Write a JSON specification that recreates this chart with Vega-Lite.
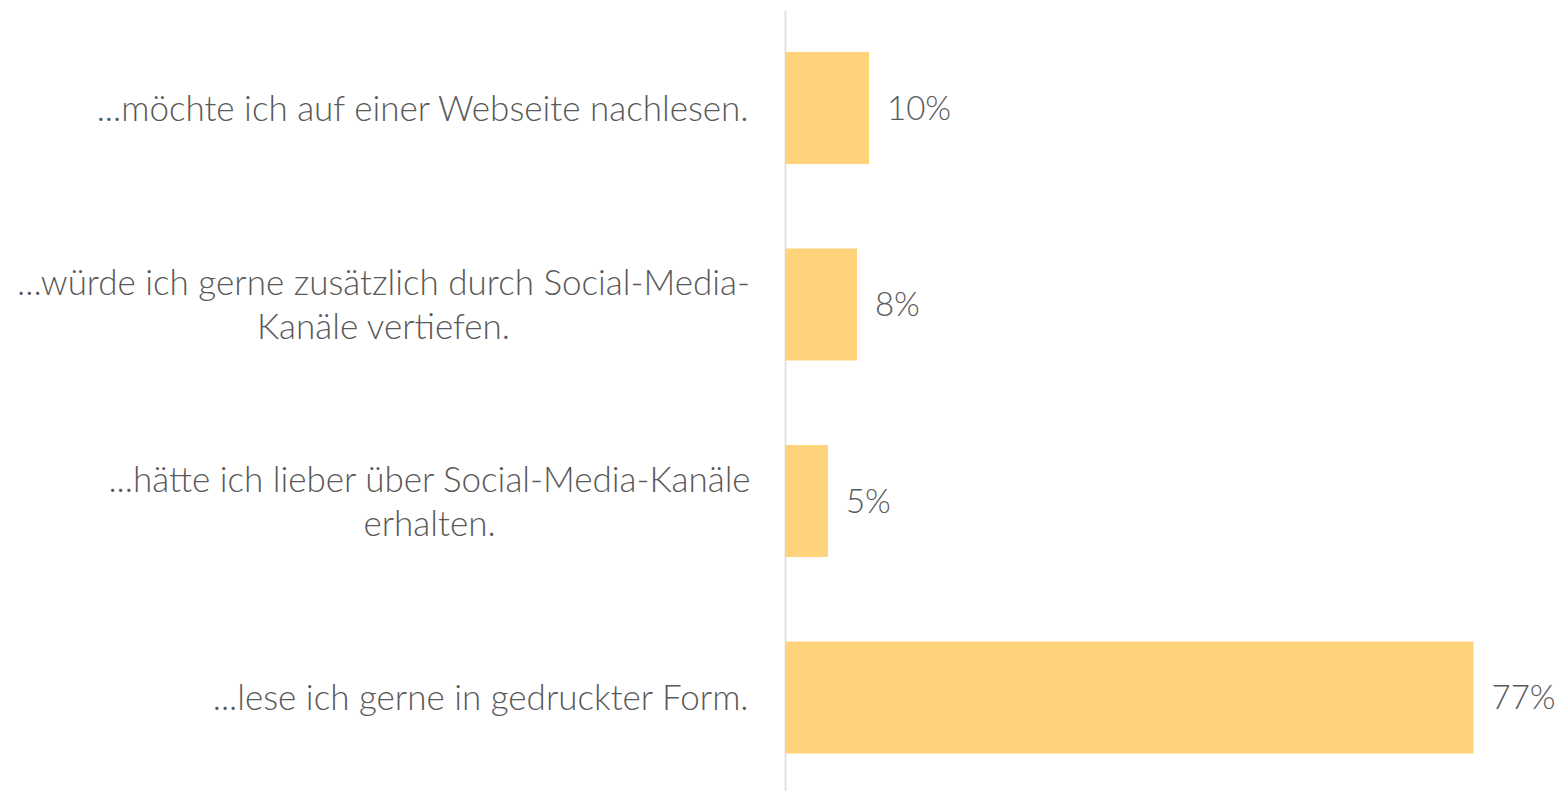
{
  "$schema": "https://vega.github.io/schema/vega-lite/v6.json",
  "width": 769,
  "height": 781,
  "autosize": {"type": "none"},
  "padding": {"left": 785, "top": 10, "right": 6, "bottom": 0},
  "background": "white",
  "config": {"view": {"stroke": null}, "font": "Lato"},
  "data": {
    "values": [
      {"kategorie": "...möchte ich auf einer Webseite nachlesen.", "anteil": 0.094, "label": "10%"},
      {"kategorie": "...würde ich gerne zusätzlich durch Social-Media-Kanäle vertiefen.", "anteil": 0.0805, "label": "8%"},
      {"kategorie": "...hätte ich lieber über Social-Media-Kanäle erhalten.", "anteil": 0.048, "label": "5%"},
      {"kategorie": "...lese ich gerne in gedruckter Form.", "anteil": 0.77, "label": "77%"}
    ]
  },
  "encoding": {
    "y": {
      "field": "kategorie",
      "type": "nominal",
      "sort": null,
      "scale": {"paddingInner": 0.43, "paddingOuter": 0.2023, "align": 0.528},
      "axis": {
        "title": null,
        "ticks": false,
        "domainColor": "#E3E3E3",
        "domainWidth": 2,
        "labelPadding": {
          "condition": [
            {"test": "datum.value == '...würde ich gerne zusätzlich durch Social-Media-Kanäle vertiefen.'", "value": 402},
            {"test": "datum.value == '...hätte ich lieber über Social-Media-Kanäle erhalten.'", "value": 356}
          ],
          "value": 37
        },
        "labelAlign": {
          "condition": {"test": "indexof(datum.value, 'Social-Media') >= 0", "value": "center"},
          "value": "right"
        },
        "labelOffset": {
          "condition": {"test": "indexof(datum.value, 'Social-Media') >= 0", "value": -20},
          "value": 2
        },
        "labelFont": "Lato",
        "labelFontSize": 35,
        "labelFontWeight": 300,
        "labelColor": "#595959",
        "labelLimit": 0,
        "labelLineHeight": 44,
        "labelExpr": "datum.value == '...würde ich gerne zusätzlich durch Social-Media-Kanäle vertiefen.' ? ['...würde ich gerne zusätzlich durch Social-Media-', 'Kanäle vertiefen.'] : datum.value == '...hätte ich lieber über Social-Media-Kanäle erhalten.' ? ['...hätte ich lieber über Social-Media-Kanäle', 'erhalten.'] : datum.value"
      }
    },
    "x": {
      "field": "anteil",
      "type": "quantitative",
      "scale": {"domain": [0, 0.86]},
      "axis": null
    }
  },
  "layer": [
    {"mark": {"type": "bar", "color": "#FFD37B"}},
    {
      "mark": {"type": "text", "align": "left", "baseline": "middle", "dx": 18, "dy": 2, "font": "Lato", "fontSize": 33, "fontWeight": 300, "color": "#595959"},
      "encoding": {"text": {"field": "label"}}
    }
  ]
}
